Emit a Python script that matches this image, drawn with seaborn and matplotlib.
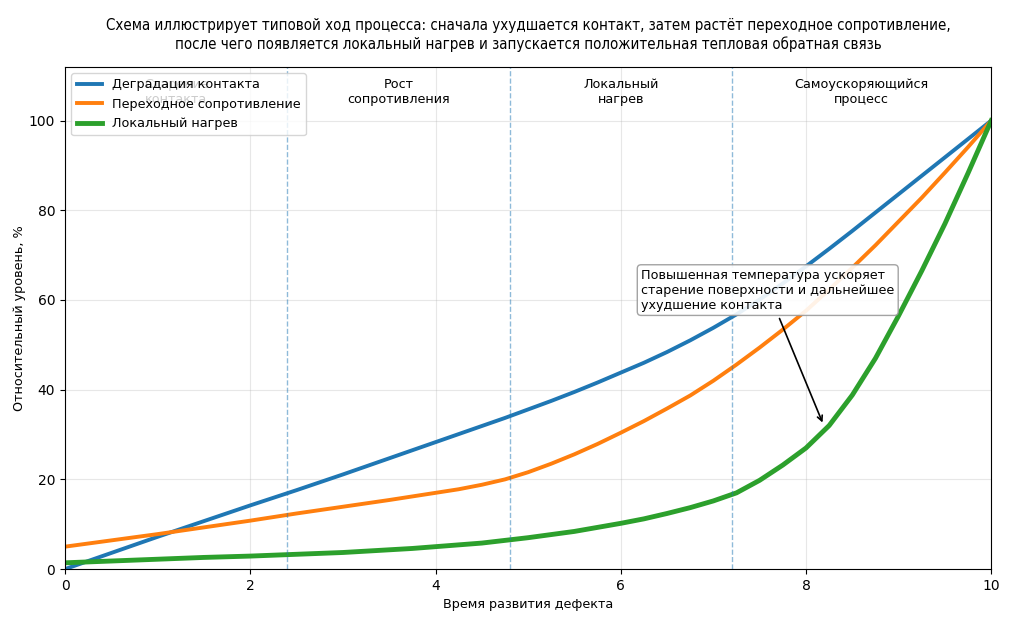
import numpy as np
import pandas as pd
import matplotlib
matplotlib.use("Agg")
import matplotlib.pyplot as plt
import seaborn as sns

x = [0, 0.5, 1, 1.5, 2, 2.5, 3, 3.5, 3.75, 4, 4.25, 4.5, 4.75, 5, 5.25, 5.5, 5.75, 6,
     6.25, 6.5, 6.75, 7, 7.25, 7.5, 7.75, 8, 8.25, 8.5, 8.75, 9, 9.25, 9.5, 9.75, 10]
degradation = [0.0, 3.6, 7.2, 10.7, 14.2, 17.6, 21.1, 24.7, 26.5, 28.3, 30.1, 31.9, 33.7,
               35.6, 37.5, 39.5, 41.6, 43.8, 46.0, 48.4, 51.0, 53.8, 56.8, 60.1, 63.7,
               67.5, 71.4, 75.4, 79.5, 83.6, 87.7, 91.8, 95.9, 100.0]
resistance = [5.0, 6.4, 7.8, 9.3, 10.8, 12.4, 13.9, 15.4, 16.2, 17.0, 17.8, 18.8, 20.0,
              21.6, 23.5, 25.6, 27.9, 30.4, 33.0, 35.8, 38.7, 42.0, 45.6, 49.4, 53.4,
              57.6, 62.3, 67.2, 72.2, 77.5, 82.8, 88.4, 94.1, 100.0]
heating = [1.4, 1.8, 2.2, 2.6, 2.9, 3.3, 3.7, 4.3, 4.6, 5.0, 5.4, 5.8, 6.4, 7.0, 7.7, 8.4,
           9.3, 10.2, 11.2, 12.4, 13.7, 15.2, 17.0, 19.8, 23.2, 27.0, 32.0, 38.8, 47.0,
           56.5, 66.5, 77.0, 88.3, 100.0]
series_names = ["Деградация контакта", "Переходное сопротивление", "Локальный нагрев"]
phase_bounds = [2.4, 4.8, 7.2]
phase_centers = [1.2, 3.6, 6.0, 8.6]
phase_labels = ["Старение\nконтакта", "Рост\nсопротивления", "Локальный\nнагрев",
                "Самоускоряющийся\nпроцесс"]

title = ("Схема иллюстрирует типовой ход процесса: сначала ухудшается контакт, затем растёт "
         "переходное сопротивление,\nпосле чего появляется локальный нагрев и запускается "
         "положительная тепловая обратная связь")
annot_text = ("Повышенная температура ускоряет\nстарение поверхности и дальнейшее\n"
              "ухудшение контакта")

plt.rcParams['font.family'] = ['DejaVu Sans']
FS = 9.2

fig, ax = plt.subplots(figsize=(10.24, 6.24), dpi=100)
fig.subplots_adjust(left=0.0635, right=0.968, top=0.893, bottom=0.088)

colors = ["#1f77b4", "#ff7f0e", "#2ca02c"]
widths = [2.8, 2.8, 3.5]
for ys, name, c, lw in zip([degradation, resistance, heating], series_names, colors, widths):
    df = pd.DataFrame({"x": x, "y": ys})
    sns.lineplot(data=df, x="x", y="y", ax=ax, color=c, linewidth=lw, label=name)

for b in phase_bounds:
    ax.axvline(b, color="#1f77b4", linestyle="--", linewidth=1, alpha=0.5)

for cx, lab in zip(phase_centers, phase_labels):
    ax.text(cx, 106.3, lab, ha="center", va="center", fontsize=FS)

ax.annotate(annot_text, xy=(8.19, 32.1), xytext=(6.22, 67.0), ha="left", va="top",
            fontsize=FS,
            bbox=dict(boxstyle="round,pad=0.3", fc="white", ec="#999999", alpha=0.9),
            arrowprops=dict(arrowstyle="->", color="black", lw=1.2))

ax.set_xlim(0, 10)
ax.set_ylim(0, 112)
ax.grid(True, alpha=0.3)
ax.set_xlabel("Время развития дефекта", fontsize=FS)
ax.set_ylabel("Относительный уровень, %", fontsize=FS, labelpad=2)
ax.set_title(title, fontsize=10.8, fontstretch="condensed", pad=13, linespacing=1.27)
ax.legend(loc="upper left", fontsize=FS)

fig.savefig("out.png", dpi=100)
